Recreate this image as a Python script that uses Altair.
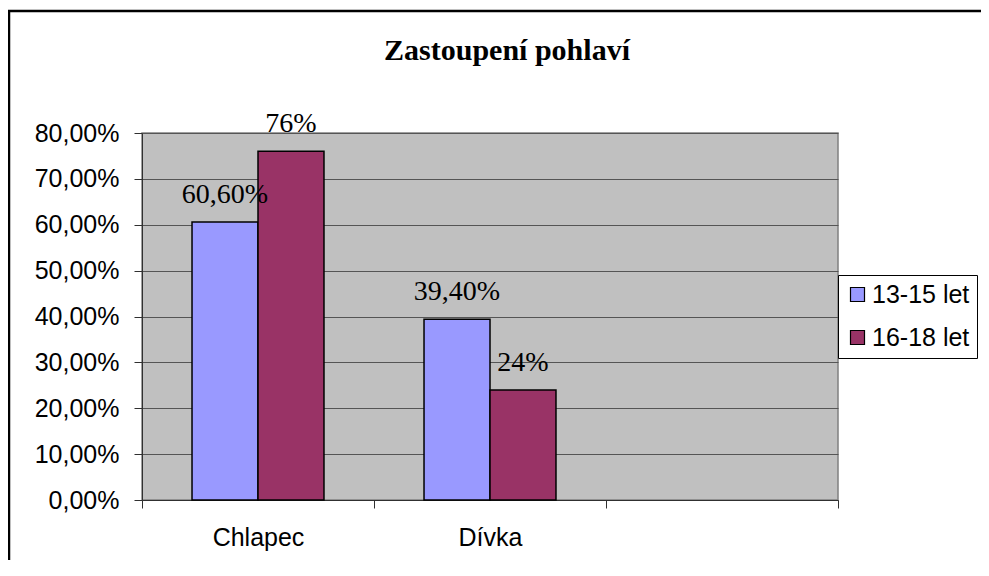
import altair as alt
import pandas as pd

categories = ["Chlapec", "Dívka", " "]
series = ["13-15 let", "16-18 let"]
values_13_15 = [0.606, 0.394]
values_16_18 = [0.76, 0.24]
labels_13_15 = ["60,60%", "39,40%"]
labels_16_18 = ["76%", "24%"]
colors = ["#9999FF", "#993366"]

rows = []
for i, c in enumerate(categories[:2]):
    rows.append({"kat": c, "skupina": series[0], "hodnota": values_13_15[i], "popis": labels_13_15[i]})
    rows.append({"kat": c, "skupina": series[1], "hodnota": values_16_18[i], "popis": labels_16_18[i]})
df = pd.DataFrame(rows)

W, H = 696, 367

x_enc = alt.X("kat:N", scale=alt.Scale(domain=categories, paddingInner=0, paddingOuter=0),
              sort=categories,
              axis=alt.Axis(title=None, tickBand="extent", labelAngle=0, labelFont="Liberation Sans",
                            labelFontSize=25, labelColor="black", labelPadding=17, tickSize=8,
                            tickColor="#303030", domainColor="#303030", labelBaseline="top"))
xo_enc = alt.XOffset("skupina:N", scale=alt.Scale(domain=series, paddingOuter=0.758, paddingInner=0))

bars = alt.Chart(df).mark_bar(stroke="black", strokeWidth=1.5).encode(
    x=x_enc,
    xOffset=xo_enc,
    y=alt.Y("hodnota:Q", scale=alt.Scale(domain=[0, 0.8]),
            axis=alt.Axis(title=None, values=[0, 0.1, 0.2, 0.3, 0.4, 0.5, 0.6, 0.7, 0.8],
                          labelExpr="replace(format(datum.value, '.2%'), '.', ',')",
                          labelFont="Liberation Sans", labelFontSize=25, labelColor="black",
                          labelPadding=15, tickSize=8, tickColor="#303030", domainColor="#303030",
                          grid=True, gridColor="#555555", gridWidth=1)),
    color=alt.Color("skupina:N", scale=alt.Scale(domain=series, range=colors),
                    legend=alt.Legend(title=None, orient="none", legendX=696, legendY=142,
                                      symbolType="square", symbolSize=196, symbolStrokeColor="black",
                                      symbolStrokeWidth=1.2, labelFont="Liberation Sans",
                                      labelFontSize=25, labelColor="black", labelOffset=2,
                                      rowPadding=17, padding=7, strokeColor="black",
                                      fillColor="white")),
)

texts = alt.Chart(df).mark_text(font="Liberation Serif", fontSize=28, color="black",
                                baseline="alphabetic", dy=-19).encode(
    x=alt.X("kat:N", sort=categories),
    xOffset=alt.XOffset("skupina:N"),
    y=alt.Y("hodnota:Q"),
    text="popis:N",
)

frame = alt.Chart(pd.DataFrame({"a": [0]})).mark_rect(fill=None, stroke="black", strokeWidth=2.5).encode(
    x=alt.value(-133), y=alt.value(-122), x2=alt.value(1000), y2=alt.value(700)
)

chart = alt.layer(bars, texts, frame).properties(
    width=W, height=H,
    title=alt.TitleParams("Zastoupení pohlaví", font="Liberation Serif", fontSize=30, fontWeight="bold",
                          color="black", anchor="middle", baseline="alphabetic", offset=-80, dx=17),
    autosize=alt.AutoSizeParams(type="none"),
    padding={"left": 134, "top": 125, "right": 143, "bottom": 60},
).configure_view(fill="#C0C0C0", stroke="#808080", strokeWidth=1.5)

chart.save("out.html", embed_options={"renderer": "svg", "actions": False})
